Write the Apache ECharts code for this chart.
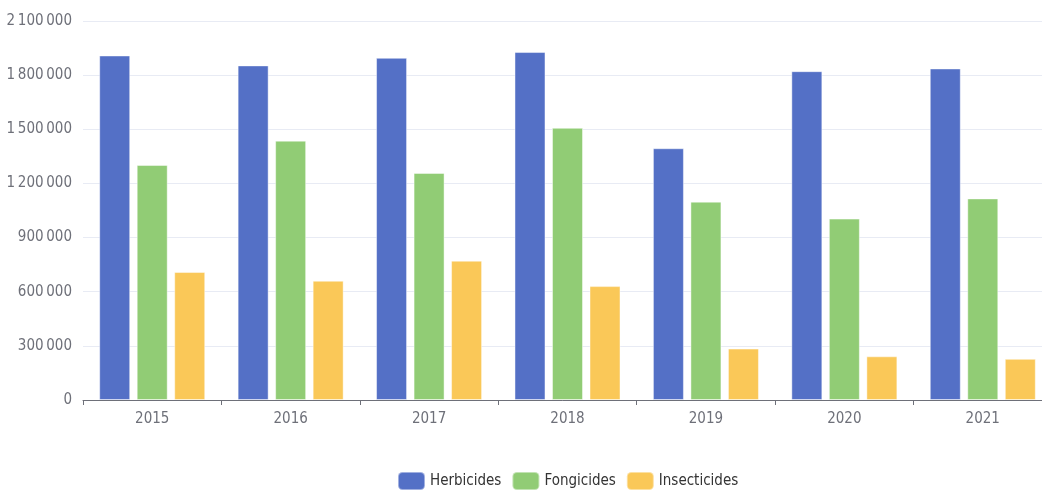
<!DOCTYPE html>
<html>
<head>
<meta charset="utf-8">
<script src="https://cdn.jsdelivr.net/npm/echarts@6/dist/echarts.min.js"></script>
<style>html,body{margin:0;padding:0;background:#fff;overflow:hidden}#c{width:1042px;height:490px}</style>
</head>
<body>
<div id="c"></div>
<script>
const years = ['2015','2016','2017','2018','2019','2020','2021'];
const herbicides = [1909000, 1854000, 1896000, 1928000, 1395000, 1822000, 1837000];
const fongicides = [1302000, 1437000, 1258000, 1508000, 1099000, 1005000, 1117000];
const insecticides = [709000, 661000, 772000, 631000, 285000, 242000, 228000];
const seriesNames = ['Herbicides', 'Fongicides', 'Insecticides'];
const colors = ['#5470c6', '#91cc75', '#fac858'];

const font = "'Liberation Sans Narrow', 'DejaVu Sans Condensed', 'Roboto', sans-serif";
const chart = echarts.init(document.getElementById('c'), null, {renderer: 'canvas'});
function fmt(v){ return String(v).replace(/\B(?=(\d{3})+(?!\d))/g, '\u2009'); }
const dataSets = [herbicides, fongicides, insecticides];
chart.setOption({
  animation: false,
  color: colors,
  grid: {left: 83, width: 969, top: 21, height: 379, outerBoundsMode: 'none', containLabel: false},
  legend: {
    data: seriesNames, left: 392, top: 466, itemWidth: 27, itemHeight: 18, itemGap: 10,
    textStyle: {fontFamily: font, fontSize: 15, color: '#333'}
  },
  xAxis: {
    type: 'category', data: years,
    axisLine: {lineStyle: {color: '#6e7079'}},
    axisTick: {show: true, length: 5, lineStyle: {color: '#6e7079'}},
    axisLabel: {fontFamily: font, fontSize: 15, color: '#6e7079', margin: 12}
  },
  yAxis: {
    type: 'value', min: 0, max: 2100000, interval: 300000,
    axisLabel: {fontFamily: font, fontSize: 15, color: '#6e7079', margin: 11, formatter: fmt},
    splitLine: {lineStyle: {color: '#e8ebf4'}}
  },
  series: dataSets.map((d, i) => ({
    name: seriesNames[i], type: 'bar', data: d, barWidth: 31, barGap: '21%',
    itemStyle: {borderColor: 'rgba(255,255,255,0.45)', borderWidth: 1}
  }))
});
</script>
</body>
</html>
